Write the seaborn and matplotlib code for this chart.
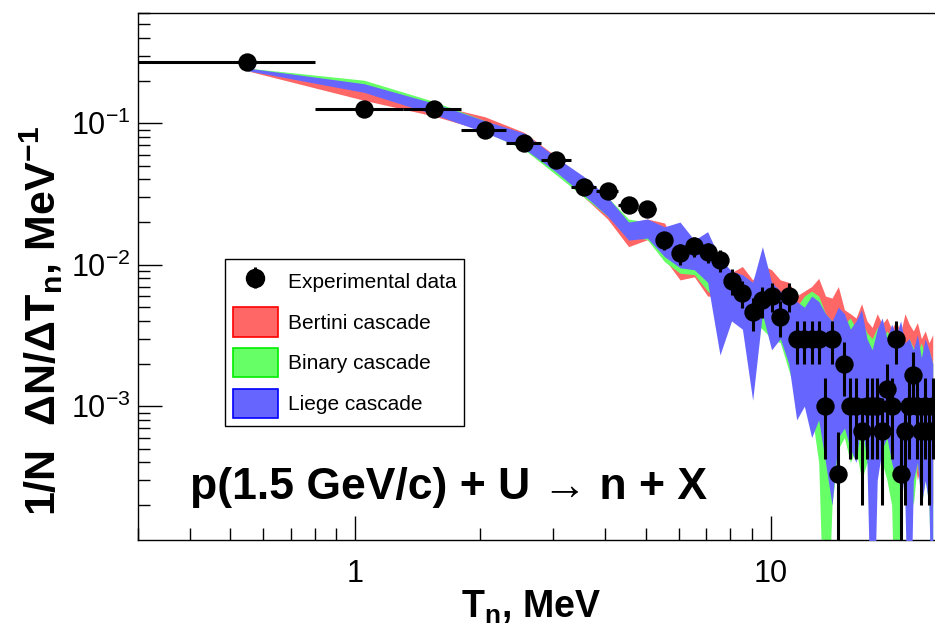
import numpy as np
import matplotlib
matplotlib.use("Agg")
import matplotlib.pyplot as plt
import seaborn as sns
from matplotlib.patches import Patch
from matplotlib.ticker import FixedLocator, FixedFormatter, NullFormatter, LogLocator

# ---------------- data ----------------
T_n = [0.55, 1.05, 1.55, 2.05, 2.55, 3.05, 3.55, 4.05, 4.55, 5.05,
       5.55, 6.05, 6.55, 7.05, 7.55, 8.05, 8.55, 9.05, 9.55, 10.05,
       10.55, 11.05, 11.55, 12.05, 12.55, 13.05, 13.55, 14.05, 14.55, 15.05,
       15.55, 16.05, 16.55, 17.05, 17.55, 18.05, 18.55, 19.05, 19.55, 20.05,
       20.55, 21.05, 21.55, 22.05, 22.55, 23.05, 23.55, 24.05, 24.55]
bin_half_width = 0.25

exp_y = [0.27, 0.125, 0.125, 0.090, 0.072, 0.0548, 0.0352, 0.0333, 0.0263, 0.0247,
         0.0149, 0.0120, 0.0135, 0.0123, 0.0108, 0.0077, 0.0063, 0.0046, 0.0056, 0.0060,
         0.0043, 0.0060, 0.0030, 0.0030, 0.0030, 0.0030, 0.0010, 0.0030, 0.00033, 0.0020,
         0.0010, 0.0010, 0.00067, 0.0010, 0.0010, 0.0010, 0.00067, 0.00133, 0.0010, 0.0030,
         0.00033, 0.00067, 0.0010, 0.00167, 0.0010, 0.00067, 0.0010, 0.00067, 0.0010]
exp_yerr = [0.0095, 0.0065, 0.0065, 0.0055, 0.0049, 0.0043, 0.0034, 0.0033, 0.0030, 0.0029,
            0.0022, 0.0020, 0.0021, 0.0020, 0.0019, 0.0016, 0.0014, 0.0012, 0.0014, 0.0014,
            0.0012, 0.0014, 0.0010, 0.0010, 0.0010, 0.0010, 0.00058, 0.0010, 0.00033, 0.00082,
            0.00058, 0.00058, 0.00047, 0.00058, 0.00058, 0.00058, 0.00047, 0.00067, 0.00058, 0.0010,
            0.00033, 0.00047, 0.00058, 0.00075, 0.00058, 0.00047, 0.00058, 0.00047, 0.00058]

bertini_lo = [0.234, 0.145, 0.112, 0.088, 0.066, 0.045, 0.030, 0.021, 0.0134, 0.015,
              0.0110, 0.0078, 0.0082, 0.0060, 0.0059, 0.0055, 0.0055, 0.0045, 0.0050, 0.0040,
              0.0038, 0.0030, 0.0020, 0.0015, 0.0012, 0.0010, 0.0006, 0.0005, 0.0007, 0.0006,
              0.0005, 0.0007, 0.0006, 0.0005, 0.0004, 0.0004, 0.0006, 0.0005, 0.0004, 0.0003,
              0.0005, 0.0004, 0.0003, 0.0005, 0.0003, 0.0004, 0.0003, 0.0004, 0.0002]
bertini_hi = [0.246, 0.175, 0.135, 0.111, 0.086, 0.058, 0.040, 0.030, 0.0195, 0.021,
              0.0197, 0.0125, 0.013, 0.0110, 0.0099, 0.0088, 0.0097, 0.0078, 0.0099, 0.0092,
              0.0078, 0.0075, 0.0060, 0.0065, 0.0070, 0.0080, 0.0060, 0.0058, 0.0070, 0.0048,
              0.0045, 0.0042, 0.0053, 0.0040, 0.0036, 0.0045, 0.0038, 0.0042, 0.0035, 0.0040,
              0.0033, 0.0045, 0.0038, 0.0034, 0.0039, 0.0030, 0.0034, 0.0028, 0.0032]

binary_lo = [0.235, 0.175, 0.118, 0.087, 0.065, 0.043, 0.030, 0.022, 0.016, 0.015,
             0.0105, 0.0087, 0.0085, 0.0065, 0.0055, 0.0050, 0.0045, 0.0040, 0.0035, 0.0030,
             0.0028, 0.0018, 0.0012, 0.0010, 0.0009, 0.0004, 1e-5, 0.0002, 0.0005, 0.0006,
             0.0004, 0.0005, 0.0003, 0.0004, 0.0003, 0.0005, 0.0004, 0.0003, 0.0002, 1e-5,
             0.0003, 0.0004, 0.0003, 0.0002, 0.0004, 0.0002, 0.0003, 0.0002, 1e-5]
binary_hi = [0.245, 0.201, 0.142, 0.104, 0.083, 0.056, 0.041, 0.030, 0.021, 0.020,
             0.017, 0.013, 0.014, 0.012, 0.0095, 0.0085, 0.0080, 0.0075, 0.0070, 0.0068,
             0.0060, 0.0055, 0.0050, 0.0060, 0.0065, 0.0060, 0.0045, 0.0040, 0.0045, 0.0038,
             0.0042, 0.0035, 0.0040, 0.0033, 0.0030, 0.0036, 0.0030, 0.0034, 0.0030, 0.0028,
             0.0032, 0.0027, 0.0030, 0.0026, 0.0024, 0.0028, 0.0022, 0.0025, 0.0020]

liege_lo = [0.235, 0.165, 0.115, 0.086, 0.066, 0.045, 0.031, 0.022, 0.0149, 0.0154,
            0.0114, 0.0095, 0.0092, 0.0075, 0.0023, 0.0040, 0.0035, 0.0011, 0.0045, 0.0025,
            0.0030, 0.0020, 0.0008, 0.0010, 0.0006, 0.0008, 0.0004, 0.0002, 0.0006, 0.0007,
            0.0005, 0.0004, 0.0008, 0.0004, 1e-5, 0.0003, 0.0005, 0.0006, 0.0004, 0.0003,
            0.0004, 0.0002, 1e-5, 0.0003, 0.0004, 0.0002, 0.0003, 0.0002, 1e-5]
liege_hi = [0.245, 0.190, 0.138, 0.104, 0.085, 0.057, 0.042, 0.030, 0.020, 0.021,
            0.0185, 0.020, 0.0149, 0.0171, 0.011, 0.009, 0.0085, 0.0075, 0.0134, 0.0075,
            0.0065, 0.0060, 0.0055, 0.0050, 0.0060, 0.0055, 0.0045, 0.0040, 0.0050, 0.0045,
            0.0035, 0.0040, 0.0048, 0.0030, 0.0025, 0.0035, 0.0042, 0.0030, 0.0038, 0.0032,
            0.0040, 0.0028, 0.0030, 0.0025, 0.0032, 0.0022, 0.0030, 0.0025, 0.0020]

models = ["Bertini cascade", "Binary cascade", "Liege cascade"]
fill_colors = ["#ff6666", "#66ff66", "#6666ff"]
edge_colors = ["#ff0000", "#00ee00", "#0000ff"]

# ---------------- style ----------------
sns.set_theme(style="ticks")
plt.rcParams["font.family"] = ["Liberation Sans", "DejaVu Sans"]
plt.rcParams["mathtext.fontset"] = "custom"
plt.rcParams["mathtext.rm"] = "Liberation Sans"
plt.rcParams["mathtext.it"] = "Liberation Sans:italic"
plt.rcParams["mathtext.bf"] = "Liberation Sans:bold"
for key in ["text.color", "axes.labelcolor", "xtick.color", "ytick.color",
            "axes.edgecolor", "xtick.labelcolor", "ytick.labelcolor"]:
    plt.rcParams[key] = "black"

fig = plt.figure(figsize=(9.35, 6.33), dpi=100)
W, H = 935.0, 633.0
ax = fig.add_axes([138 / W, 1 - 540 / H, 798 / W, 527 / H])

x = np.array(T_n)
bands = [(bertini_lo, bertini_hi), (binary_lo, binary_hi), (liege_lo, liege_hi)]
for (lo, hi), fc, z in zip(bands, fill_colors, [1, 2, 3]):
    ax.fill_between(x, lo, hi, color=fc, linewidth=0, zorder=z)

y = np.array(exp_y)
ye = np.array(exp_yerr)
ye_low = np.minimum(ye, y * 0.99999)
ax.errorbar(x, y, xerr=bin_half_width, yerr=[ye_low, ye], fmt="none",
            ecolor="black", elinewidth=2.2, capsize=0, zorder=5)
sns.scatterplot(x=x, y=y, ax=ax, color="black", s=175, marker="o",
                edgecolor="black", linewidth=0, zorder=6, legend=False)

ax.set_xscale("log")
ax.set_yscale("log")
ax.set_xlim(0.3, 25)
ax.set_ylim(1.133e-4, 0.6)

ax.xaxis.set_major_locator(FixedLocator([1, 10]))
ax.xaxis.set_major_formatter(FixedFormatter(["1", "10"]))
ax.xaxis.set_minor_locator(LogLocator(base=10, subs=np.arange(2, 10) * 1.0, numticks=30))
ax.xaxis.set_minor_formatter(NullFormatter())
ax.yaxis.set_major_locator(FixedLocator([1e-3, 1e-2, 1e-1]))
ax.yaxis.set_major_formatter(FixedFormatter([r"$10^{-3}$", r"$10^{-2}$", r"$10^{-1}$"]))
ax.yaxis.set_minor_locator(LogLocator(base=10, subs=np.arange(2, 10) * 1.0, numticks=30))
ax.yaxis.set_minor_formatter(NullFormatter())

ax.tick_params(which="major", direction="in", length=17, width=1, color="black",
               labelsize=22, labelcolor="black", top=False, right=False)
ax.tick_params(which="minor", direction="in", length=8.5, width=1, color="black",
               top=False, right=False)
ax.tick_params(axis="x", which="major", pad=14)
ax.tick_params(axis="y", which="major", pad=5)
for sp in ax.spines.values():
    sp.set_color("black")
    sp.set_linewidth(1.0)
ax.grid(False)

# axis titles
fig.text(42 / W, 1 - 321 / H, "1/N  \u0394N/\u0394T$_\\mathbf{n}$, MeV$^\\mathbf{-1}$",
         rotation=90, fontsize=31, fontweight="bold", color="black",
         ha="center", va="center")
fig.text(531 / W, 1 - 607 / H, r"T$_\mathbf{n}$, MeV", fontsize=27, fontweight="bold",
         color="black", ha="center", va="center")

# reaction label
fig.text(190 / W, 1 - 487 / H, "p(1.5 GeV/c) + U \u2192 n + X", fontsize=32,
         fontweight="bold", color="black", ha="left", va="center")

# legend
h_exp = ax.errorbar([], [], yerr=[], fmt="o", color="black", ms=13,
                    elinewidth=2.2, capsize=0)
handles = [h_exp] + [Patch(facecolor=fc, edgecolor=ec, linewidth=1.2)
                     for fc, ec in zip(fill_colors, edge_colors)]
labels = ["Experimental data"] + models
leg = ax.legend(handles, labels, loc="upper left",
                bbox_to_anchor=(225 / W, 1 - 259 / H), bbox_transform=fig.transFigure,
                frameon=True, fancybox=False, edgecolor="black", framealpha=1,
                fontsize=15, handlelength=2.16, handleheight=1.77, labelspacing=0.55,
                handletextpad=0.48, borderpad=0.38, borderaxespad=0)
leg.get_frame().set_linewidth(1.0)
leg.set_zorder(10)
for t in leg.get_texts():
    t.set_color("black")

fig.savefig("out.png", dpi=100)
